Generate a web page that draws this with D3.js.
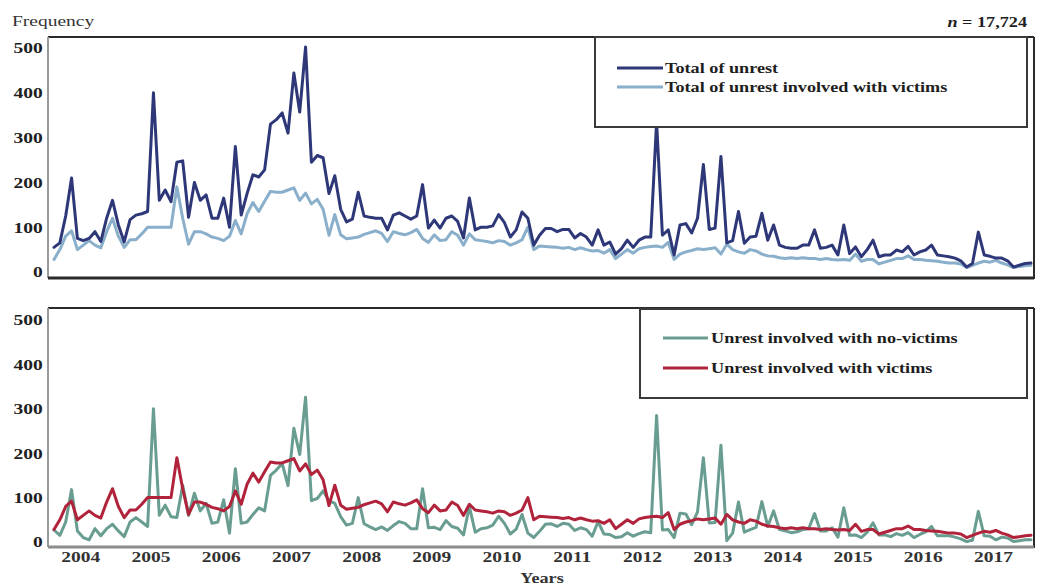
<!DOCTYPE html>
<html>
<head>
<meta charset="utf-8">
<script src="https://cdn.jsdelivr.net/npm/d3@7"></script>
<style>
  body { margin: 0; background: #fff; }
  svg { display: block; }
</style>
</head>
<body>
<svg id="chart" width="1041" height="586"></svg>
<script>
// Monthly counts of unrest events, January 2004 – December 2017
const years = [2004, 2005, 2006, 2007, 2008, 2009, 2010, 2011, 2012, 2013, 2014, 2015, 2016, 2017];

const totalUnrest = [
  55, 65, 125, 210, 75, 70, 75, 90, 68, 120, 160, 105,
  67, 117, 127, 130, 135, 400, 160, 183, 157, 245, 248, 122,
  200, 160, 172, 120, 120, 165, 100, 280, 127, 175, 217, 212,
  228, 330, 340, 355, 310, 444, 357, 502, 245, 260, 255, 175,
  215, 140, 112, 118, 178, 125, 122, 120, 120, 94, 127, 132,
  125, 118, 125, 195, 98, 116, 98, 120, 125, 113, 76, 165,
  94, 100, 100, 103, 128, 110, 78, 94, 134, 120, 60, 82,
  97, 97, 90, 95, 95, 76, 86, 78, 60, 94, 60, 67,
  40, 52, 71, 55, 71, 78, 78, 335, 82, 94, 38, 105,
  108, 87, 120, 240, 95, 98, 258, 65, 70, 135, 64, 78,
  80, 131, 71, 105, 60, 55, 53, 53, 60, 60, 94, 53,
  55, 60, 38, 105, 41, 56, 34, 50, 71, 34, 38, 38,
  49, 45, 57, 38, 45, 49, 60, 38, 36, 34, 31, 25,
  11, 19, 89, 38, 35, 31, 31, 25, 11, 15, 19, 20
];

const withVictims = [
  28, 50, 80, 92, 50, 60, 70, 60, 54, 90, 120, 80,
  55, 72, 72, 85, 100, 100, 100, 100, 100, 190, 120, 62,
  90, 90, 85, 78, 75, 70, 80, 115, 85, 130, 155, 135,
  158, 180, 178, 178, 183, 188, 160, 176, 152, 162, 140, 82,
  128, 83, 74, 76, 78, 84, 88, 92, 86, 68, 90, 86,
  83, 88, 95, 75, 66, 83, 70, 72, 90, 82, 60, 85,
  72, 70, 68, 65, 70, 68, 60, 65, 72, 100, 50, 58,
  57, 56, 55, 53, 55, 50, 54, 50, 47, 48, 42, 50,
  30, 40, 50, 42, 52, 55, 57, 58, 55, 66, 28, 40,
  45, 48, 52, 50, 52, 54, 40, 62, 50, 45, 42, 50,
  47, 40, 36, 35, 32, 30, 32, 30, 32, 30, 30, 28,
  30, 28, 27, 28, 26, 40, 24, 28, 28, 18, 22, 26,
  30, 30, 36, 28, 28, 26, 25, 24, 22, 20, 20, 18,
  10, 15, 20, 24, 22, 26, 20, 16, 10, 12, 14, 15
];

const noVictims = [
  27, 15, 45, 118, 25, 10, 5, 30, 14, 30, 40, 25,
  12, 45, 55, 45, 35, 300, 60, 83, 57, 55, 128, 60,
  110, 70, 87, 42, 45, 95, 20, 165, 42, 45, 62, 77,
  70, 150, 162, 177, 127, 256, 197, 326, 93, 98, 115, 93,
  87, 57, 38, 42, 100, 41, 34, 28, 34, 26, 37, 46,
  42, 30, 30, 120, 32, 33, 28, 48, 35, 31, 16, 80,
  22, 30, 32, 38, 58, 42, 18, 29, 62, 20, 10, 24,
  40, 41, 35, 42, 40, 26, 32, 28, 13, 46, 18, 17,
  10, 12, 21, 13, 19, 23, 21, 285, 27, 28, 10, 65,
  63, 39, 68, 190, 43, 44, 218, 3, 20, 90, 22, 28,
  33, 91, 35, 70, 28, 25, 21, 23, 28, 30, 64, 25,
  25, 32, 11, 77, 15, 16, 10, 22, 43, 16, 16, 12,
  19, 15, 21, 10, 17, 23, 35, 14, 14, 14, 11, 7,
  1, 4, 69, 14, 13, 5, 11, 9, 1, 3, 5, 5
];

const yTicks = [0, 100, 200, 300, 400, 500];
const sampleSize = "17,724";

const topLegend = ["Total of unrest", "Total of unrest involved with victims"];
const bottomLegend = ["Unrest involved with no-victims", "Unrest involved with victims"];

// ---- styling ----
const C = {
  navy: "#2e3878",
  sky: "#8aafcb",
  teal: "#6a9d91",
  red: "#b1223b",
  frame: "#2a2a2a",
  frameLight: "#9a9a9a",
  text: "#1e1e1e"
};
const SERIF = "'Liberation Serif', 'Times New Roman', serif";
const STRETCH = 1.3;  // type is set wide

const svg = d3.select("#chart");

// month index -> horizontal position
const nMonths = totalUnrest.length;
const x = d3.scaleLinear().domain([0, nMonths - 1]).range([54, 1031]);
const yTop = d3.scaleLinear().domain([0, 500]).range([272, 48]);
const yBot = d3.scaleLinear().domain([0, 500]).range([542, 320]);

const panels = [
  { y: yTop, top: 37, bottom: 278, bottomColor: C.frame, bottomWidth: 3 },
  { y: yBot, top: 308, bottom: 547, bottomColor: "#8c8c8c", bottomWidth: 3 }
];
const LEFT = 48, RIGHT = 1034;

function stretchedText(parent, tx, ty, str, opt = {}) {
  const g = parent.append("g").attr("transform", `translate(${tx},${ty}) scale(${opt.sx || STRETCH},1)`);
  const t = g.append("text")
    .attr("text-anchor", opt.anchor || "start")
    .style("font-family", SERIF)
    .style("font-size", (opt.size || 15) + "px")
    .style("font-weight", opt.weight || "bold")
    .attr("fill", opt.fill || C.text);
  if (opt.italic) t.style("font-style", "italic");
  t.text(str);
  return t;
}

// frames and y axes
panels.forEach(p => {
  const f = svg.append("g");
  f.append("line").attr("x1", LEFT).attr("x2", RIGHT).attr("y1", p.top).attr("y2", p.top)
    .attr("stroke", C.frame).attr("stroke-width", 2);
  f.append("line").attr("x1", RIGHT).attr("x2", RIGHT).attr("y1", p.top).attr("y2", p.bottom + 1)
    .attr("stroke", C.frame).attr("stroke-width", 2);
  f.append("line").attr("x1", LEFT).attr("x2", LEFT).attr("y1", p.top).attr("y2", p.bottom)
    .attr("stroke", C.frameLight).attr("stroke-width", 2);
  f.append("line").attr("x1", LEFT).attr("x2", RIGHT).attr("y1", p.bottom).attr("y2", p.bottom)
    .attr("stroke", p.bottomColor).attr("stroke-width", p.bottomWidth);

  const ax = svg.append("g").attr("transform", `translate(${LEFT},0)`)
    .call(d3.axisLeft(p.y).tickValues(yTicks).tickSize(0).tickPadding(4).tickFormat(d3.format("d")));
  ax.select(".domain").remove();
  ax.selectAll("text")
    .attr("transform", `scale(${STRETCH},1)`)
    .style("font-family", SERIF).style("font-size", "15px").style("font-weight", "bold")
    .attr("fill", C.text);
});

// series lines
const line = yScale => d3.line().x((d, i) => x(i)).y(d => yScale(d)).curve(d3.curveLinear);
function drawSeries(data, yScale, color) {
  svg.append("path").datum(data)
    .attr("d", line(yScale))
    .attr("fill", "none")
    .attr("stroke", color)
    .attr("stroke-width", 3)
    .attr("stroke-linejoin", "round")
    .attr("stroke-linecap", "round");
}
drawSeries(withVictims, yTop, C.sky);
drawSeries(totalUnrest, yTop, C.navy);
drawSeries(noVictims, yBot, C.teal);
drawSeries(withVictims, yBot, C.red);

// year labels under the lower panel, centred inside each year
const yearPos = years.map((yr, k) => k * 12 + 4.5);
const xAxis = svg.append("g").attr("transform", `translate(0,${panels[1].bottom})`)
  .call(d3.axisBottom(x).tickValues(yearPos).tickSize(0).tickPadding(4)
    .tickFormat((d, k) => years[k]));
xAxis.select(".domain").remove();
xAxis.selectAll("text")
  .attr("transform", `scale(${STRETCH},1)`)
  .style("font-family", SERIF).style("font-size", "15px").style("font-weight", "bold")
  .attr("fill", "#333");

// titles
stretchedText(svg, 12, 26, "Frequency", { weight: "normal", size: 15, fill: "#333" });
stretchedText(svg, 542, 583, "Years", { anchor: "middle", weight: "bold", size: 14, fill: "#333" });
const nText = stretchedText(svg, 1027, 27, "", { anchor: "end", size: 14 });
nText.append("tspan").style("font-style", "italic").text("n");
nText.append("tspan").text(" = " + sampleSize);

// legends
function legend(box, items, colors) {
  const g = svg.append("g");
  g.append("rect").attr("x", box.x).attr("y", box.y).attr("width", box.w).attr("height", box.h)
    .attr("fill", "#fff").attr("stroke", "#3a3a3a").attr("stroke-width", 2);
  items.forEach((name, k) => {
    const ly = box.rowY[k];
    g.append("line").attr("x1", box.lineX[0]).attr("x2", box.lineX[1]).attr("y1", ly).attr("y2", ly)
      .attr("stroke", colors[k]).attr("stroke-width", 3);
    stretchedText(g, box.textX, ly + 5, name, { size: 14 });
  });
}
legend({ x: 595, y: 37, w: 432, h: 90, rowY: [68, 87], lineX: [617, 663], textX: 665 },
  topLegend, [C.navy, C.sky]);
legend({ x: 640, y: 309, w: 387, h: 89, rowY: [338, 368], lineX: [663, 708], textX: 711 },
  bottomLegend, [C.teal, C.red]);
</script>
</body>
</html>
